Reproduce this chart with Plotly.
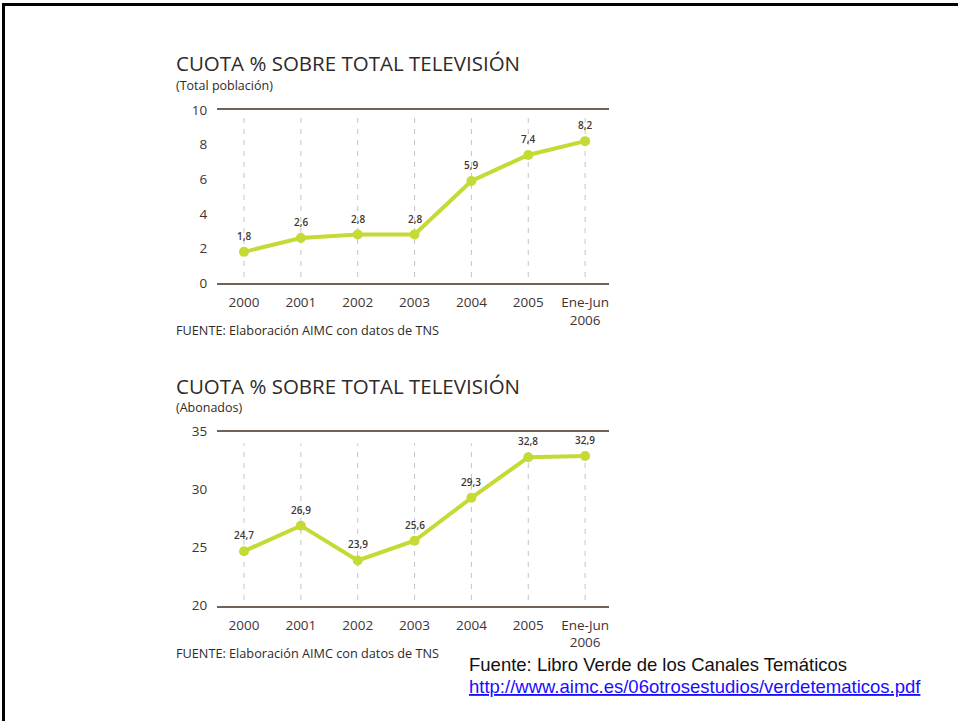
import plotly.graph_objects as go

W, H = 958, 721

categories = ["2000", "2001", "2002", "2003", "2004", "2005", "Ene-Jun<br>2006"]
poblacion = [1.8, 2.6, 2.8, 2.8, 5.9, 7.4, 8.2]
abonados = [24.7, 26.9, 23.9, 25.6, 29.3, 32.8, 32.9]
ticks_pob = [0, 2, 4, 6, 8, 10]
ticks_abo = [20, 25, 30, 35]

title_main = "CUOTA % SOBRE TOTAL TELEVISIÓN"
sub_pob = "(Total población)"
sub_abo = "(Abonados)"
fuente = "FUENTE: Elaboración AIMC con datos de TNS"
fuente2 = "Fuente: Libro Verde de los Canales Temáticos"
link = "http://www.aimc.es/06otrosestudios/verdetematicos.pdf"

LINE = "#c5da35"
TXT = "#3f3432"
AX = "#6f625b"
FONT = "Open Sans"

def px(x):
    return x / W

def py(y):
    return 1 - y / H

fig = go.Figure()

idx = list(range(len(categories)))

fig.add_trace(go.Scatter(x=idx, y=poblacion, mode="lines+markers",
                         line=dict(color=LINE, width=4),
                         marker=dict(color=LINE, size=10),
                         xaxis="x", yaxis="y", showlegend=False, hoverinfo="skip"))
fig.add_trace(go.Scatter(x=idx, y=abonados, mode="lines+markers",
                         line=dict(color=LINE, width=4),
                         marker=dict(color=LINE, size=10),
                         xaxis="x2", yaxis="y2", showlegend=False, hoverinfo="skip"))

shapes = []
annotations = []

def fmt(v):
    return f"{v:.1f}".replace(".", ",")

for i in idx:
    shapes.append(dict(type="line", xref="x", yref="y", x0=i, x1=i, y0=0.35, y1=9.54,
                       line=dict(color="#c4c4c4", width=1, dash="5px,6px"), layer="below"))
    shapes.append(dict(type="line", xref="x2", yref="y2", x0=i, x1=i, y0=20.5, y1=34.0,
                       line=dict(color="#c4c4c4", width=1, dash="5px,6px"), layer="below"))
    annotations.append(dict(x=i, y=poblacion[i], xref="x", yref="y", text=fmt(poblacion[i]),
                            showarrow=False, yshift=16, borderpad=0,
                            font=dict(family=FONT, size=10, color=TXT, weight=600)))
    annotations.append(dict(x=i, y=abonados[i], xref="x2", yref="y2", text=fmt(abonados[i]),
                            showarrow=False, yshift=16, borderpad=0,
                            font=dict(family=FONT, size=10, color=TXT, weight=600)))

# titles / texts
for ty, sub, sy, fy in [(63.5, sub_pob, 85.5, 330), (385.5, sub_abo, 407.5, 653)]:
    annotations.append(dict(x=px(175), y=py(ty), xref="paper", yref="paper", text=title_main,
                            showarrow=False, xanchor="left", yanchor="middle", borderpad=0,
                            font=dict(family=FONT, size=20.5, color="#2e2a28")))
    annotations.append(dict(x=px(175), y=py(sy), xref="paper", yref="paper", text=sub,
                            showarrow=False, xanchor="left", yanchor="middle", borderpad=0,
                            font=dict(family=FONT, size=12.5, color="#2e2a28")))
    annotations.append(dict(x=px(175), y=py(fy), xref="paper", yref="paper", text=fuente,
                            showarrow=False, xanchor="left", yanchor="middle", borderpad=0,
                            font=dict(family=FONT, size=12.7, color="#2e2a28")))

annotations.append(dict(x=px(468), y=py(664), xref="paper", yref="paper", text=fuente2,
                        showarrow=False, xanchor="left", yanchor="middle", borderpad=0,
                        font=dict(family="Liberation Sans", size=18.5, color="#111111")))
annotations.append(dict(x=px(468), y=py(686), xref="paper", yref="paper",
                        text=f'<span style="text-decoration:underline">{link}</span>',
                        showarrow=False, xanchor="left", yanchor="middle", borderpad=0,
                        font=dict(family="Liberation Sans", size=18.5, color="#1a0dff")))

# page border
shapes.append(dict(type="line", xref="paper", yref="paper", x0=px(3.5), x1=px(3.5),
                   y0=0, y1=py(3), line=dict(color="black", width=3)))
shapes.append(dict(type="line", xref="paper", yref="paper", x0=px(2), x1=1,
                   y0=py(4.5), y1=py(4.5), line=dict(color="black", width=3)))

xr = [-0.475, 6.42]
xdom = [px(217), px(609)]
xax = dict(range=xr, domain=xdom, showgrid=False, zeroline=False, automargin=False,
           tickvals=idx, ticktext=categories,
           showline=True, mirror=True, linecolor=AX, linewidth=1.5,
           ticks="outside", ticklen=6, tickcolor="rgba(0,0,0,0)",
           tickfont=dict(family=FONT, size=13.5, color=TXT))
yax = dict(showgrid=False, zeroline=False, showline=False, automargin=False,
           ticks="outside", ticklen=6, tickcolor="rgba(0,0,0,0)",
           tickfont=dict(family=FONT, size=13.5, color=TXT))

fig.update_layout(
    template="none",
    width=W, height=H, margin=dict(l=0, r=0, t=0, b=0, pad=0),
    paper_bgcolor="white", plot_bgcolor="white",
    xaxis=dict(**xax, anchor="y"),
    yaxis=dict(**yax, range=[0, 10], tickvals=ticks_pob,
               domain=[py(283), py(110)], anchor="x"),
    xaxis2=dict(**xax, anchor="y2"),
    yaxis2=dict(**yax, range=[20, 35], tickvals=ticks_abo,
                domain=[py(605.7), py(431.7)], anchor="x2"),
    shapes=shapes, annotations=annotations,
)

post = "document.body.style.margin='0';"
fig.write_html("out.html", config={"displayModeBar": False}, post_script=post)
